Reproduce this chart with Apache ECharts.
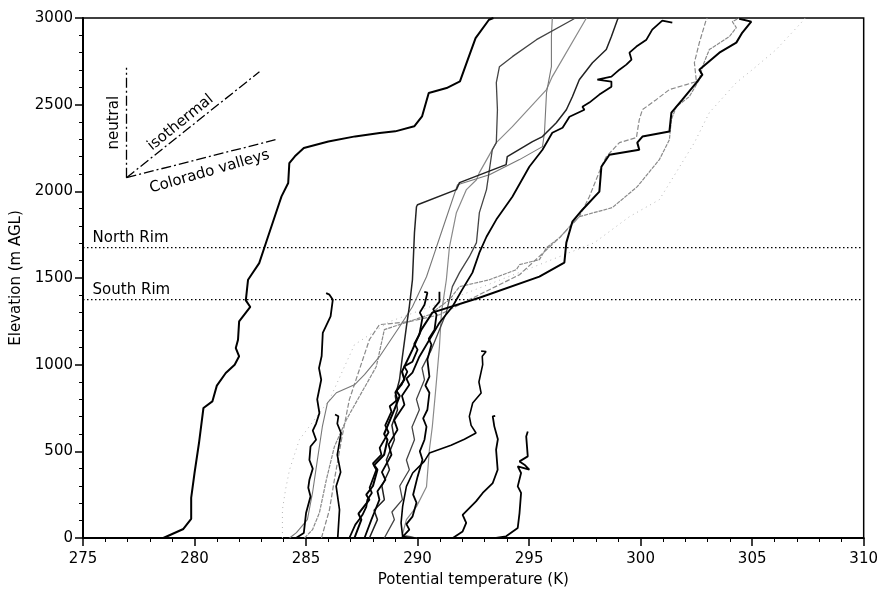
<!DOCTYPE html>
<html><head><meta charset="utf-8">
<script src="https://cdn.jsdelivr.net/npm/echarts@6/dist/echarts.min.js"></script>
<style>html,body{margin:0;padding:0;background:#fff}#c{width:881px;height:594px}</style>
</head><body><div id="c"></div>
<script>
// ---- axis ticks ----
const xTicks = [275, 280, 285, 290, 295, 300, 305, 310];
const yTicks = [0, 500, 1000, 1500, 2000, 2500, 3000];
// ---- reference levels ----
const rimNames = ['North Rim', 'South Rim'];
const rimLevels = [1675, 1375];
// ---- profiles: [potential temperature K, elevation m AGL] ----
const L1 = [[278.6,0],[279.5,52],[279.85,110],[279.85,231],[280.0,375],[280.2,548],[280.4,750],[280.8,788],[281.0,879],[281.4,952],[281.8,1000],[282.0,1048],[281.85,1096],[281.95,1144],[282.0,1250],[282.5,1333],[282.3,1371],[282.35,1432],[282.4,1490],[282.55,1519],[282.9,1586],[283.2,1702],[283.8,1933],[283.9,1971],[284.2,2048],[284.25,2163],[284.5,2202],[284.9,2250],[286.0,2288],[287.2,2317],[288.3,2337],[289.0,2346],[289.85,2375],[290.2,2432],[290.5,2567],[291.3,2596],[291.9,2634],[292.25,2760],[292.6,2884],[293.2,2990],[293.4,3000]];
const L2 = [[284.55,0],[284.9,29],[285.0,144],[285.2,240],[285.1,290],[285.15,336],[285.3,400],[285.15,450],[285.2,528],[285.45,567],[285.3,620],[285.45,660],[285.6,721],[285.5,800],[285.68,913],[285.58,980],[285.7,1050],[285.75,1183],[286.1,1278],[286.2,1375],[286.05,1404],[285.9,1413]];
const L3 = [[286.42,0],[286.5,163],[286.35,298],[286.55,380],[286.4,480],[286.57,606],[286.4,660],[286.45,702],[286.3,712]];
const L4 = [[289.93,0],[289.33,9],[289.26,87],[289.33,182],[289.5,298],[289.78,375],[290.3,442],[290.53,490],[291.5,535],[292.1,570],[292.62,606],[292.4,650],[292.32,702],[292.47,779],[292.85,836],[292.75,900],[292.92,1000],[292.9,1048],[293.07,1076],[292.85,1078]];
const L5 = [[291.58,0],[292.02,38],[292.18,87],[292.02,134],[292.62,211],[292.92,260],[293.37,317],[293.59,394],[293.52,509],[293.6,570],[293.44,644],[293.37,702],[293.48,705]];
const L6 = [[293.52,0],[293.97,10],[294.49,58],[294.57,144],[294.64,260],[294.49,298],[294.64,375],[294.49,413],[295.01,394],[294.79,423],[294.57,442],[294.94,471],[294.87,586],[294.94,615]];
const R1 = [[287.17,0],[287.48,106],[287.35,140],[287.84,221],[287.7,250],[288.0,300],[288.2,394],[288.05,420],[288.5,480],[288.65,567],[288.5,600],[288.96,740],[289.2,820],[289.05,850],[289.41,913],[289.3,960],[289.77,1087],[290.17,1202],[290.66,1300],[292.77,1386],[295.46,1508],[296.58,1589],[296.67,1704],[296.94,1825],[297.39,1894],[298.15,1998],[298.24,2142],[298.6,2211],[299.94,2240],[299.85,2281],[300.08,2316],[301.29,2345],[301.38,2454],[301.87,2529],[302.5,2627],[302.77,2673],[302.63,2702],[303.53,2800],[304.29,2858],[304.56,2916],[304.96,2979],[304.42,2996]];
const R2 = [[284.93,0],[285.29,48],[285.6,146],[285.91,336],[286.27,527],[286.81,683],[287.39,816],[288.15,989],[288.51,1202],[289.19,1231],[290.53,1288],[291.43,1375],[291.88,1450],[293.22,1490],[294.43,1548],[294.57,1577],[295.46,1606],[295.78,1675],[296.36,1732],[296.81,1796],[297.25,1854],[298.73,1906],[299.85,2027],[300.84,2183],[301.29,2298],[301.38,2414],[301.6,2489],[302.18,2546],[302.63,2644],[302.77,2719],[303.08,2818],[303.98,2893],[304.29,2945],[304.11,2979],[304.42,3000]];
const R3 = [[287.62,0],[287.93,106],[288.1,160],[288.29,221],[288.2,270],[288.56,336],[288.4,380],[288.83,480],[288.7,540],[289.1,625],[288.95,680],[289.41,769],[289.3,820],[289.63,884],[289.5,920],[289.77,954],[290.08,1046],[290.53,1144],[290.98,1242],[291.56,1334],[292.0,1433],[292.46,1531],[292.77,1646],[293.09,1738],[293.53,1837],[294.25,1969],[295.01,2142],[295.6,2240],[296.04,2338],[296.5,2367],[296.81,2430],[297.48,2471],[297.39,2488],[297.7,2512],[298.15,2558],[298.69,2604],[298.69,2633],[298.06,2644],[298.69,2662],[299.05,2702],[299.36,2731],[299.59,2760],[299.5,2800],[299.81,2835],[300.26,2875],[300.52,2933],[300.97,2985],[301.42,2973]];
const R5 = [[285.69,0],[286.05,163],[286.27,336],[286.59,567],[286.94,798],[287.39,971],[287.84,1144],[288.29,1231],[289.63,1248],[290.98,1288],[292.77,1404],[294.57,1519],[295.78,1663],[296.36,1732],[297.25,1854],[297.7,1969],[298.24,2142],[298.46,2200],[299.05,2281],[299.81,2310],[299.94,2414],[300.08,2471],[300.7,2529],[301.29,2587],[302.05,2616],[302.5,2633],[302.41,2742],[302.63,2857],[302.94,2990],[302.99,3000]];
const U2 = [[288.51,0],[288.96,106],[288.85,150],[289.32,221],[289.2,300],[289.63,394],[289.5,450],[289.86,567],[289.75,640],[290.08,740],[289.95,800],[290.31,913],[290.2,980],[290.62,1087],[290.98,1202],[291.29,1300],[291.56,1450],[291.88,1531],[292.32,1623],[292.64,1704],[292.77,1877],[293.09,2010],[293.35,2240],[293.53,2281],[293.58,2471],[293.53,2627],[293.67,2719],[294.25,2777],[295.33,2875],[296.94,2990],[297.07,3000]];
const U3 = [[289.95,0],[289.32,19],[289.5,106],[289.95,181],[290.4,296],[290.53,509],[290.66,642],[290.8,838],[290.98,1103],[291.07,1300],[291.29,1490],[291.43,1680],[291.74,1877],[292.19,2010],[292.64,2067],[292.77,2108],[293.53,2281],[294.25,2373],[295.78,2587],[296.04,2662],[297.57,3000]];
const U4 = [[287.84,0],[288.2,106],[288.05,160],[288.51,221],[288.4,300],[288.74,394],[288.6,450],[288.96,567],[288.85,650],[289.1,740],[289.0,820],[289.19,913],[289.32,1046],[289.5,1219],[289.63,1335],[289.77,1490],[289.86,1761],[289.95,1911],[290.0,1923],[291.74,2010],[291.88,2050],[293.97,2154],[294.02,2200],[295.15,2287],[295.6,2316],[295.78,2339],[296.22,2396],[296.67,2471],[296.94,2546],[297.25,2644],[297.84,2742],[298.46,2818],[298.69,2893],[298.96,2990],[299.0,3000]];
const G6 = [[284.26,0],[284.57,31],[285.06,106],[285.29,261],[285.51,452],[285.73,642],[285.96,780],[286.36,838],[287.17,884],[287.62,942],[288.29,1046],[289.19,1219],[289.77,1334],[290.4,1507],[290.85,1680],[291.79,2038],[293.22,2096],[294.57,2183],[295.6,2258],[295.69,2339],[295.78,2569],[296.0,2719],[296.0,2893],[296.04,3000]];
const B1 = [[286.94,0],[287.21,77],[287.4,110],[287.53,134],[287.7,180],[287.75,221],[287.95,260],[287.85,290],[288.15,394],[288.0,430],[288.38,481],[288.3,520],[288.51,567],[288.7,610],[288.55,650],[288.83,729],[288.75,760],[289.1,798],[289.0,840],[289.28,884],[289.54,960],[289.4,990],[289.77,1017],[290.0,1087],[289.85,1120],[290.08,1173],[290.22,1271],[290.1,1300],[290.31,1346],[290.44,1415],[290.3,1420]];
const B2 = [[289.28,0],[289.63,48],[289.5,80],[289.77,123],[289.95,204],[289.8,250],[290.0,354],[290.22,452],[290.1,500],[290.31,567],[290.4,642],[290.25,690],[290.44,740],[290.53,838],[290.35,880],[290.53,931],[290.44,1029],[290.62,1115],[290.5,1150],[290.76,1202],[290.85,1289],[290.7,1320],[290.98,1364],[290.98,1421]];
const F1 = [[283.94,0],[283.94,163],[284.08,279],[284.26,394],[284.7,567],[286.05,798],[287.17,1115],[288.74,1248],[291.43,1375],[295.46,1577],[297.93,1704],[299.5,1854],[300.84,1952],[301.2,2027],[302.41,2281],[303.08,2454],[304.29,2627],[305.01,2702],[306.08,2818],[307.2,2973],[307.38,3000]];
// ---- inset (lapse-rate key) ----
const keyVertex = [276.95, 2079];
const keyNeutralTop = [276.95, 2713];
const keyIsothermalEnd = [282.91, 2690];
const keyValleyEnd = [283.63, 2298];
const keyLabels = ['neutral', 'isothermal', 'Colorado valleys'];
const keyLabelPos = [[276.41, 2396], [279.37, 2396], [280.67, 2113]];
const keyLabelAngle = [90, 39, 16];

const FONT = 'DejaVu Sans';
const profiles = [
  {d: F1, c: '#b5b5b5', w: 1, t: [1, 4]},
  {d: R5, c: '#8a8a8a', w: 1.2, t: [5, 2]},
  {d: R2, c: '#8a8a8a', w: 1.2, t: [4, 1]},
  {d: U3, c: '#8a8a8a', w: 1.2, t: 'solid'},
  {d: G6, c: '#777', w: 1.1, t: 'solid'},
  {d: U2, c: '#444', w: 1.3, t: 'solid'},
  {d: U4, c: '#222', w: 1.5, t: 'solid'},
  {d: L1, c: '#000', w: 2, t: 'solid'},
  {d: L2, c: '#000', w: 1.8, t: 'solid'},
  {d: L3, c: '#000', w: 1.7, t: 'solid'},
  {d: L4, c: '#000', w: 1.6, t: 'solid'},
  {d: L5, c: '#000', w: 1.8, t: 'solid'},
  {d: L6, c: '#000', w: 1.8, t: 'solid'},
  {d: R1, c: '#000', w: 2, t: 'solid'},
  {d: R3, c: '#000', w: 1.8, t: 'solid'},
  {d: B1, c: '#000', w: 1.8, t: 'solid'},
  {d: B2, c: '#000', w: 1.8, t: 'solid'}
];

const series = [];
profiles.forEach(p => series.push({
  type: 'line', data: p.d, showSymbol: false, symbol: 'none', silent: true,
  lineStyle: {color: p.c, width: p.w, type: p.t}, z: 3
}));
const textLabel = (txt, rot, pos) => ({show: true, position: pos, distance: 0, formatter: txt, rotate: rot,
  color: '#000', opacity: 1, fontFamily: FONT, fontSize: 15, textBorderWidth: 0});
rimLevels.forEach((lv, i) => {
  series.push({type: 'line', data: [[xTicks[0], lv], [xTicks[xTicks.length - 1], lv]], symbol: 'none',
    lineStyle: {color: '#000', width: 1.3, type: [1.5, 2.5]}, z: 2});
  series.push({type: 'scatter', data: [[275.43, lv + 55]], symbolSize: 0, silent: true, itemStyle: {color: '#000', opacity: 1},
    label: textLabel(rimNames[i], 0, 'right'), z: 5});
});
const keyLineStyle = {color: '#000', width: 1.3, type: [10, 3, 2, 3]};
[[keyVertex, keyNeutralTop], [keyVertex, keyIsothermalEnd], [keyVertex, keyValleyEnd]].forEach(seg => {
  series.push({type: 'line', data: seg, symbol: 'none', lineStyle: keyLineStyle, z: 4});
});
keyLabels.forEach((t, i) => {
  series.push({type: 'scatter', data: [keyLabelPos[i]], symbolSize: 0, silent: true, itemStyle: {color: '#000', opacity: 1},
    label: textLabel(t, keyLabelAngle[i], 'inside'), z: 5});
});

const axisCommon = {
  axisLine: {show: true, onZero: false, lineStyle: {color: '#000', width: 2}},
  axisTick: {show: true, inside: false, length: 8, lineStyle: {color: '#000', width: 1.5}},
  minorTick: {show: true, splitNumber: 5, length: 4, lineStyle: {color: '#000', width: 1}},
  splitLine: {show: false},
  nameTextStyle: {color: '#000', fontFamily: FONT, fontSize: 15},
  axisLabel: {color: '#000', fontFamily: FONT, fontSize: 15, formatter: v => String(v)}
};
const chart = echarts.init(document.getElementById('c'), null, {renderer: 'canvas'});
chart.setOption({
  animation: false,
  backgroundColor: '#fff',
  grid: {left: 83, right: 17, top: 18, bottom: 56, show: true, borderColor: '#000', borderWidth: 1.5, backgroundColor: 'transparent'},
  xAxis: Object.assign({}, axisCommon, {type: 'value', min: xTicks[0], max: xTicks[xTicks.length - 1], interval: 5,
    name: 'Potential temperature (K)', nameLocation: 'middle', nameGap: 35,
    axisLabel: Object.assign({}, axisCommon.axisLabel, {margin: 14})}),
  yAxis: Object.assign({}, axisCommon, {type: 'value', min: yTicks[0], max: yTicks[yTicks.length - 1], interval: 500,
    name: 'Elevation (m AGL)', nameLocation: 'middle', nameGap: 54,
    axisLabel: Object.assign({}, axisCommon.axisLabel, {margin: 10})}),
  series: series
});
</script></body></html>
